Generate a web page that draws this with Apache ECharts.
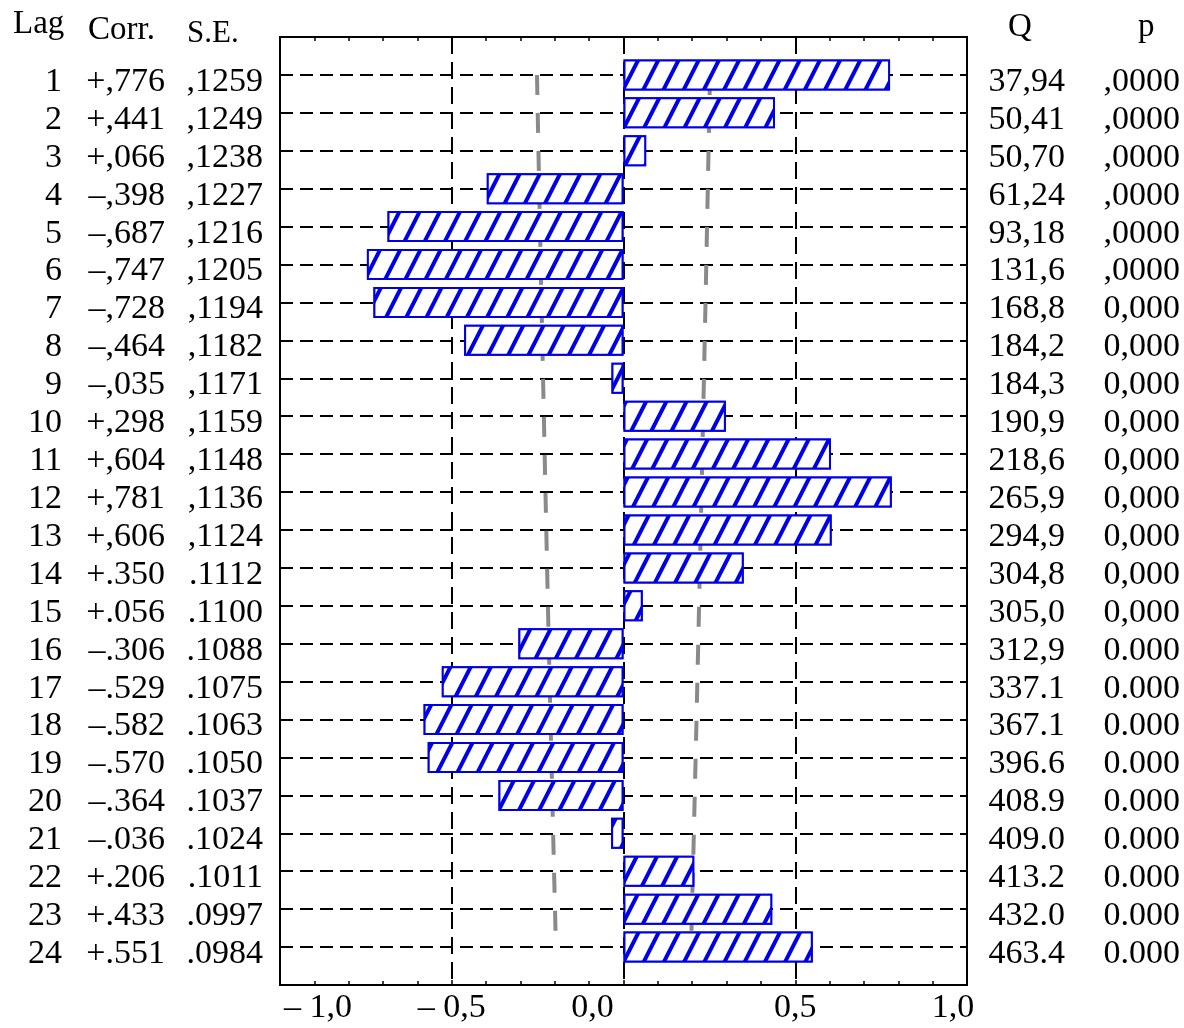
<!DOCTYPE html>
<html><head><meta charset="utf-8">
<script src="https://cdn.jsdelivr.net/npm/echarts@6/dist/echarts.min.js"></script>
<style>html,body{margin:0;padding:0;background:#fff}#c{width:1184px;height:1028px}</style>
</head><body><div id="c"></div>
<script>
// ---- data ----
const lags = [1,2,3,4,5,6,7,8,9,10,11,12,13,14,15,16,17,18,19,20,21,22,23,24];
const corr = [0.776,0.441,0.066,-0.398,-0.687,-0.747,-0.728,-0.464,-0.035,0.298,0.604,0.781,0.606,0.350,0.056,-0.306,-0.529,-0.582,-0.570,-0.364,-0.036,0.206,0.433,0.551];
const corrLabels = ['+,776','+,441','+,066','–,398','–,687','–,747','–,728','–,464','–,035','+,298','+,604','+,781','+,606','+.350','+.056','–.306','–.529','–.582','–.570','–.364','–.036','+.206','+.433','+.551'];
const se = [0.1259,0.1249,0.1238,0.1227,0.1216,0.1205,0.1194,0.1182,0.1171,0.1159,0.1148,0.1136,0.1124,0.1112,0.1100,0.1088,0.1075,0.1063,0.1050,0.1037,0.1024,0.1011,0.0997,0.0984];
const seLabels = [',1259',',1249',',1238',',1227',',1216',',1205',',1194',',1182',',1171',',1159',',1148',',1136',',1124','.1112','.1100','.1088','.1075','.1063','.1050','.1037','.1024','.1011','.0997','.0984'];
const qLabels = ['37,94','50,41','50,70','61,24','93,18','131,6','168,8','184,2','184,3','190,9','218,6','265,9','294,9','304,8','305,0','312,9','337.1','367.1','396.6','408.9','409.0','413.2','432.0','463.4'];
const pLabels = [',0000',',0000',',0000',',0000',',0000',',0000','0,000','0,000','0,000','0,000','0,000','0,000','0,000','0,000','0,000','0.000','0.000','0.000','0.000','0.000','0.000','0.000','0.000','0.000'];
const xTickValues = [-1,-0.5,0,0.5,1];
const xTickLabels = ['– 1,0','– 0,5','0,0','0,5','1,0'];
const headersLeft = ['Lag','Corr.','S.E.'];
const headersRight = ['Q','p'];

// confidence limits (±2 S.E.)
const upper = se.map(v => 2*v);
const lower = se.map(v => -2*v);

const FONT = '"Liberation Serif", "DejaVu Serif", serif';
const rows = [''].concat(lags.map(String), ['']);
const pad = a => [null].concat(a, [null]);
const BLUE = '#0000e6';

const chart = echarts.init(document.getElementById('c'));
chart.setOption({
  animation: false,
  backgroundColor: '#fff',
  textStyle: { fontFamily: FONT, color: '#000' },
  grid: { left: 280, right: 217, top: 37, bottom: 43, show: true, borderColor: '#000', borderWidth: 2, backgroundColor: 'transparent' },
  xAxis: [{
    type: 'value', min: -1, max: 1, interval: 0.5, position: 'bottom',
    axisLine: { show: true, onZero: false, lineStyle: { color: '#000', width: 2 } },
    axisTick: { show: true, inside: true, length: 5, lineStyle: { color: '#000', width: 1.5 } },
    minorTick: { show: true, splitNumber: 5, length: 4, lineStyle: { color: '#000', width: 1.5 } },
    splitLine: { show: true, lineStyle: { color: '#000', width: 2, type: [17, 8] } },
    axisLabel: {
      margin: 6, fontSize: 34, fontFamily: FONT, color: '#000',
      formatter: v => { const i = xTickValues.indexOf(v); return i < 0 ? '' : '{s' + i + '|' + xTickLabels[i] + '}'; },
      rich: {
        s0: { fontSize: 34, fontFamily: FONT, padding: [0, 0, 0, 76] },
        s1: { fontSize: 34, fontFamily: FONT, padding: [0, 0, 0, 0] },
        s2: { fontSize: 34, fontFamily: FONT, padding: [0, 62, 0, 0] },
        s3: { fontSize: 34, fontFamily: FONT, padding: [0, 0, 0, 0] },
        s4: { fontSize: 34, fontFamily: FONT, padding: [0, 28, 0, 0] }
      }
    }
  }, {
    type: 'value', min: -1, max: 1, interval: 0.5, position: 'top',
    axisLine: { show: false },
    axisTick: { show: true, inside: true, length: 5, lineStyle: { color: '#000', width: 1.5 } },
    minorTick: { show: true, splitNumber: 5, length: 4, lineStyle: { color: '#000', width: 1.5 } },
    splitLine: { show: false },
    axisLabel: { show: false }
  }],
  yAxis: [{
    type: 'category', data: rows, inverse: true, boundaryGap: false, position: 'left',
    axisLine: { show: false }, axisTick: { show: false },
    splitLine: { show: true, interval: (i) => i > 0 && i < rows.length - 1, lineStyle: { color: '#000', width: 2, type: [13, 7] } },
    axisLabel: {
      interval: 0, margin: 17, padding: [14, 0, 0, 0],
      formatter: (v, idx) => {
        const i = idx - 1;
        if (i < 0 || i >= lags.length) return '';
        return '{a|' + lags[i] + '}{b|' + corrLabels[i] + '}{c|' + seLabels[i] + '}';
      },
      rich: {
        a: { width: 50, align: 'right', fontSize: 34, fontFamily: FONT, color: '#000' },
        b: { width: 103, align: 'right', fontSize: 34, fontFamily: FONT, color: '#000' },
        c: { width: 98, align: 'right', fontSize: 34, fontFamily: FONT, color: '#000' }
      }
    }
  }, {
    type: 'category', data: rows, inverse: true, boundaryGap: false, position: 'right',
    axisLine: { show: false }, axisTick: { show: false }, splitLine: { show: false },
    axisLabel: {
      interval: 0, margin: 3, padding: [14, 0, 0, 0],
      formatter: (v, idx) => {
        const i = idx - 1;
        if (i < 0 || i >= lags.length) return '';
        return '{q|' + qLabels[i] + '}{p|' + pLabels[i] + '}';
      },
      rich: {
        q: { width: 95, align: 'right', fontSize: 34, fontFamily: FONT, color: '#000' },
        p: { width: 115, align: 'right', fontSize: 34, fontFamily: FONT, color: '#000' }
      }
    }
  }],
  graphic: [
    { type: 'text', left: 13, top: 8, style: { text: headersLeft[0], font: '33px ' + FONT, fill: '#000' } },
    { type: 'text', left: 88, top: 14, style: { text: headersLeft[1], font: '33px ' + FONT, fill: '#000' } },
    { type: 'text', left: 187, top: 18, style: { text: headersLeft[2], font: '31px ' + FONT, fill: '#000' } },
    { type: 'text', left: 1008, top: 11, style: { text: headersRight[0], font: '33px ' + FONT, fill: '#000' } },
    { type: 'text', left: 1138, top: 11, style: { text: headersRight[1], font: '33px ' + FONT, fill: '#000' } }
  ],
  series: [
    {
      type: 'line', data: pad(lower), xAxisIndex: 0, yAxisIndex: 0, symbol: 'none', silent: true, z: 2,
      lineStyle: { color: '#8a8a8a', width: 4, type: [20, 18] }
    },
    {
      type: 'line', data: pad(upper), xAxisIndex: 0, yAxisIndex: 0, symbol: 'none', silent: true, z: 2,
      lineStyle: { color: '#8a8a8a', width: 4, type: [20, 18] }
    },
    {
      type: 'bar', data: pad(corr), xAxisIndex: 0, yAxisIndex: 0, barWidth: 31, z: 3, silent: true,
      itemStyle: {
        color: '#fff', borderColor: BLUE, borderWidth: 2,
        decal: { symbol: 'rect', symbolSize: 1, color: BLUE, backgroundColor: '#fff', dashArrayX: [1, 0], dashArrayY: [4, 14], rotation: -1.1 }
      }
    }
  ]
});
</script>
</body></html>
